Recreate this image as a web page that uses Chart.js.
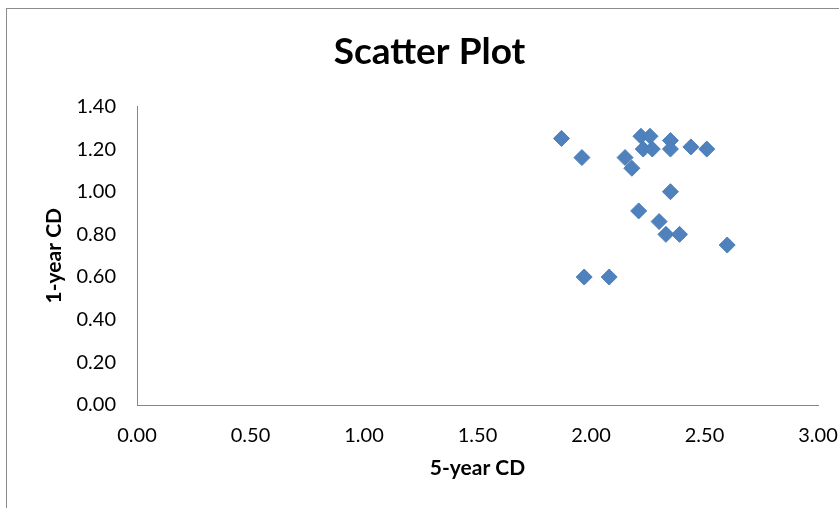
<!DOCTYPE html>
<html>
<head>
<meta charset="utf-8">
<script src="https://cdn.jsdelivr.net/npm/chart.js@4"></script>
<style>
  html, body { margin: 0; padding: 0; background: #fff; overflow: hidden; }
  #wrap { position: relative; width: 839px; height: 508px; }
  #frame { position: absolute; left: 6px; top: 8px; width: 900px; height: 600px; border: 1px solid #8c8c8c; }
  canvas { position: absolute; left: 0; top: 0; }
</style>
</head>
<body>
<div id="wrap">
  <div id="frame"></div>
  <canvas id="scatter" width="839" height="508"></canvas>
</div>
<script>
// 5-year CD (x) and 1-year CD (y)
const fiveYear = [1.87, 1.96, 2.15, 2.18, 2.22, 2.26, 2.23, 2.27, 2.35, 2.35,
                  2.44, 2.51, 2.35, 2.21, 2.30, 2.33, 2.39, 2.60, 1.97, 2.08];
const oneYear  = [1.25, 1.16, 1.16, 1.11, 1.26, 1.26, 1.20, 1.20, 1.24, 1.20,
                  1.21, 1.20, 1.00, 0.91, 0.86, 0.80, 0.80, 0.75, 0.60, 0.60];

const xTicks = [0, 0.5, 1, 1.5, 2, 2.5, 3];
const yTicks = [0, 0.2, 0.4, 0.6, 0.8, 1.0, 1.2, 1.4];

const FONT = 'Lato, "Open Sans", sans-serif';
const axisGrey = '#868686';

const pts = fiveYear.map((x, i) => ({ x: x, y: oneYear[i] }));

new Chart(document.getElementById('scatter'), {
  type: 'scatter',
  data: {
    datasets: [{
      label: '1-year CD',
      data: pts,
      pointStyle: 'rectRot',
      pointRadius: 8,
      pointHoverRadius: 8,
      backgroundColor: '#4F81BD',
      borderColor: '#4A7EBB',
      borderWidth: 1
    }]
  },
  options: {
    responsive: false,
    animation: false,
    layout: { padding: { left: 20, right: 0, top: 0, bottom: 0 } },
    plugins: {
      legend: { display: false },
      tooltip: { enabled: false },
      title: {
        display: true,
        text: 'Scatter Plot',
        color: '#000',
        font: { family: FONT, size: 37, weight: 'bold' },
        padding: { top: 30, bottom: 32 }
      }
    },
    scales: {
      x: {
        type: 'linear',
        min: xTicks[0],
        max: xTicks[xTicks.length - 1],
        afterBuildTicks: s => { s.ticks = xTicks.map(v => ({ value: v })); },
        grid: { display: false, drawTicks: false },
        border: { display: true, color: axisGrey, width: 1 },
        ticks: {
          color: '#000',
          padding: 19,
          maxRotation: 0,
          font: { family: FONT, size: 20 },
          callback: v => v.toFixed(2)
        },
        title: {
          display: true,
          text: '5-year CD',
          color: '#000',
          font: { family: FONT, size: 21, weight: 'bold' },
          padding: { top: 0, bottom: 27 }
        },
        afterFit: s => { s.height = 103; s.paddingLeft = 0; s.paddingRight = 21; }
      },
      y: {
        type: 'linear',
        min: yTicks[0],
        max: yTicks[yTicks.length - 1],
        afterBuildTicks: s => { s.ticks = yTicks.map(v => ({ value: v })); },
        grid: { display: false, drawTicks: false },
        border: { display: true, color: axisGrey, width: 1 },
        ticks: {
          color: '#000',
          padding: 21,
          font: { family: FONT, size: 20 },
          callback: v => v.toFixed(2)
        },
        title: {
          display: true,
          text: '1-year CD',
          color: '#000',
          font: { family: FONT, size: 21, weight: 'bold' },
          padding: { top: 22, bottom: 0 }
        },
        afterFit: s => { s.width = 117; s.paddingTop = 0; s.paddingBottom = 0; }
      }
    }
  }
});
</script>
</body>
</html>
